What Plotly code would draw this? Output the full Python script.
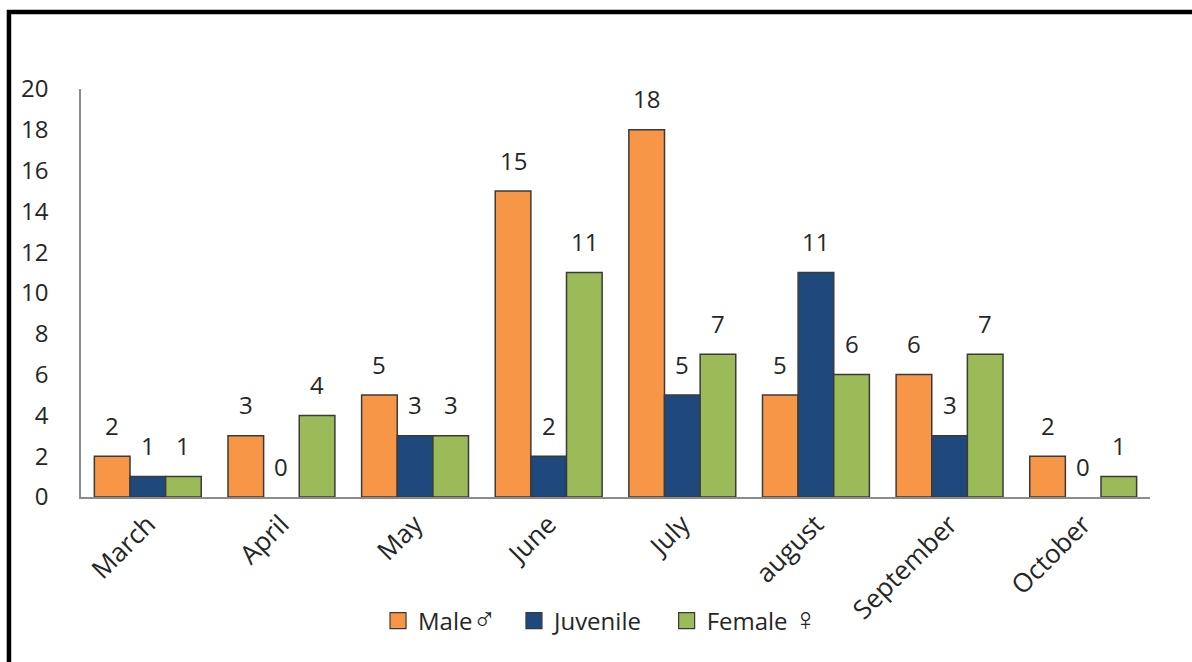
import plotly.graph_objects as go

months = ["March", "April", "May", "June", "July", "august", "September", "October"]
male = [2, 3, 5, 15, 18, 5, 6, 2]
juvenile = [1, 0, 3, 2, 5, 11, 3, 0]
female = [1, 4, 3, 11, 7, 6, 7, 1]

series = [
    ("Male<span style='font-size:32px'>♂</span>&nbsp;&nbsp;", male, "#F79646"),
    ("Juvenile&nbsp;&nbsp;&nbsp;", juvenile, "#1F497D"),
    ("Female <span style='font-size:32px'>♀</span>", female, "#9BBB59"),
]

FONT = "Open Sans, sans-serif"
TXT = "#262626"
FS = 24

fig = go.Figure()
for name, vals, col in series:
    fig.add_trace(go.Bar(
        x=months, y=vals, name=name, showlegend=False,
        marker=dict(color=col, line=dict(color="#3a3a3a",
                                         width=[1.5 if v > 0 else 0 for v in vals])),
    ))
# legend swatches (square markers, bigger than bar swatches)
for name, vals, col in series:
    fig.add_trace(go.Scatter(
        x=[months[0]], y=[None], mode="markers", name=name,
        marker=dict(symbol="square", size=16, color=col, line=dict(color="#3a3a3a", width=1.2)),
    ))

bar_px = 1069 / 8 * 0.8 / 3
annotations = []
for i, (name, vals, col) in enumerate(series):
    for m, v in zip(months, vals):
        annotations.append(dict(
            x=m, y=v, xref="x", yref="y", text=str(v), showarrow=False,
            xshift=(i - 1) * bar_px, yshift=31, yanchor="middle",
            font=dict(size=FS, color=TXT, family=FONT),
        ))

fig.update_layout(
    width=1192, height=662,
    margin=dict(l=81, r=42, t=89, b=165),
    paper_bgcolor="white", plot_bgcolor="white",
    barmode="group", bargap=0.2, bargroupgap=0,
    font=dict(family=FONT, color=TXT, size=FS),
    showlegend=True,
    legend=dict(orientation="h", x=0.486, xanchor="center", y=-0.304, yanchor="middle",
                font=dict(size=FS, color=TXT, family=FONT), itemwidth=30,
                tracegroupgap=0, bgcolor="rgba(0,0,0,0)"),
    annotations=annotations,
    shapes=[dict(type="path", xref="paper", yref="paper",
                 path="M -0.0674 -0.6 L -0.0674 1.189 L 1.2 1.189",
                 line=dict(color="black", width=4.5))],
)
fig.update_xaxes(showline=True, linecolor="#8c8c8c", linewidth=1.5, ticks="",
                 tickangle=-45, tickfont=dict(size=26, color=TXT, family=FONT),
                 showgrid=False)
fig.update_yaxes(range=[0, 20], dtick=2, showline=True, linecolor="#8c8c8c", linewidth=1.5,
                 ticks="", ticklabelstandoff=26, showgrid=False, zeroline=False,
                 tickfont=dict(size=FS, color=TXT, family=FONT))

fig.write_html("out.html")
